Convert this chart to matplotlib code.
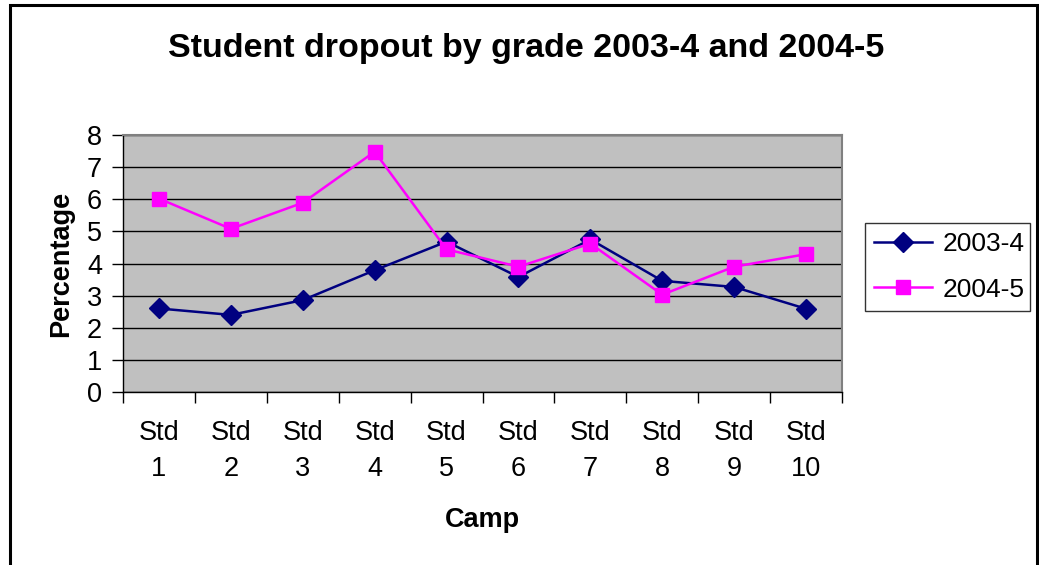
import matplotlib.pyplot as plt
from matplotlib.patches import Rectangle

plt.rcParams['font.family'] = ['Liberation Sans', 'DejaVu Sans']

# Data
grades = ['Std\n1', 'Std\n2', 'Std\n3', 'Std\n4', 'Std\n5',
          'Std\n6', 'Std\n7', 'Std\n8', 'Std\n9', 'Std\n10']
dropout_2003_4 = [2.60, 2.40, 2.86, 3.79, 4.68, 3.58, 4.75, 3.46, 3.27, 2.59]
dropout_2004_5 = [6.02, 5.08, 5.89, 7.48, 4.44, 3.90, 4.62, 3.03, 3.90, 4.29]
y_ticks = [0, 1, 2, 3, 4, 5, 6, 7, 8]

W, H = 1039, 565
fig = plt.figure(figsize=(W / 100, H / 100), dpi=100)
ax = fig.add_axes([123 / W, 1 - 392 / H, (842 - 123) / W, (392 - 135) / H])
ax.set_facecolor('#C0C0C0')

x = list(range(len(grades)))
ax.plot(x, dropout_2003_4, color='#000080', marker='D', markersize=10,
        linewidth=1.8, label='2003-4', zorder=3)
ax.plot(x, dropout_2004_5, color='#FF00FF', marker='s', markersize=10,
        linewidth=1.8, label='2004-5', zorder=3)

# Axes
ax.set_xlim(-0.5, len(grades) - 0.5)
ax.set_ylim(0, 8)
ax.set_yticks(y_ticks)
ax.set_yticklabels([str(v) for v in y_ticks], fontsize=19.5)
ax.yaxis.grid(True, color='black', linewidth=1)
ax.set_axisbelow(True)

# tick marks at category boundaries, labels at category centres
ax.set_xticks([i - 0.5 for i in range(len(grades) + 1)])
ax.set_xticklabels([])
ax.set_xticks(x, minor=True)
ax.set_xticklabels(grades, minor=True, fontsize=19.5, linespacing=1.5)
ax.tick_params(axis='x', which='minor', length=0, pad=20)
ax.tick_params(axis='both', which='major', length=8, width=1, direction='out')
ax.tick_params(axis='y', pad=7)

for side in ['top', 'right']:
    ax.spines[side].set_color('#808080')
    ax.spines[side].set_linewidth(1.5)
for side in ['left', 'bottom']:
    ax.spines[side].set_color('black')
    ax.spines[side].set_linewidth(1)

ax.set_xlabel('Camp', fontsize=19.5, fontweight='bold', labelpad=18)
ax.set_ylabel('Percentage', fontsize=19.5, fontweight='bold', labelpad=9)

fig.suptitle('Student dropout by grade 2003-4 and 2004-5', x=0.506, y=1 - 48 / H,
             va='center', fontsize=24.5, fontweight='bold')

leg = ax.legend(loc='center left', bbox_to_anchor=(865 / W, 1 - 312 / H, 165 / W, 90 / H),
                bbox_transform=fig.transFigure, mode='expand', fontsize=19,
                frameon=True, fancybox=False, borderaxespad=0, handlelength=2.2,
                handletextpad=0.4, labelspacing=0.8, borderpad=0.35)
leg.get_frame().set_edgecolor('black')
leg.get_frame().set_linewidth(1)

# outer chart border
fig.patches.append(Rectangle((10 / W, -0.05), (1037 - 10) / W, 1.05 - 5 / H,
                             transform=fig.transFigure, fill=False,
                             edgecolor='black', linewidth=2.2))

fig.savefig('out.png', dpi=100)
plt.close(fig)
